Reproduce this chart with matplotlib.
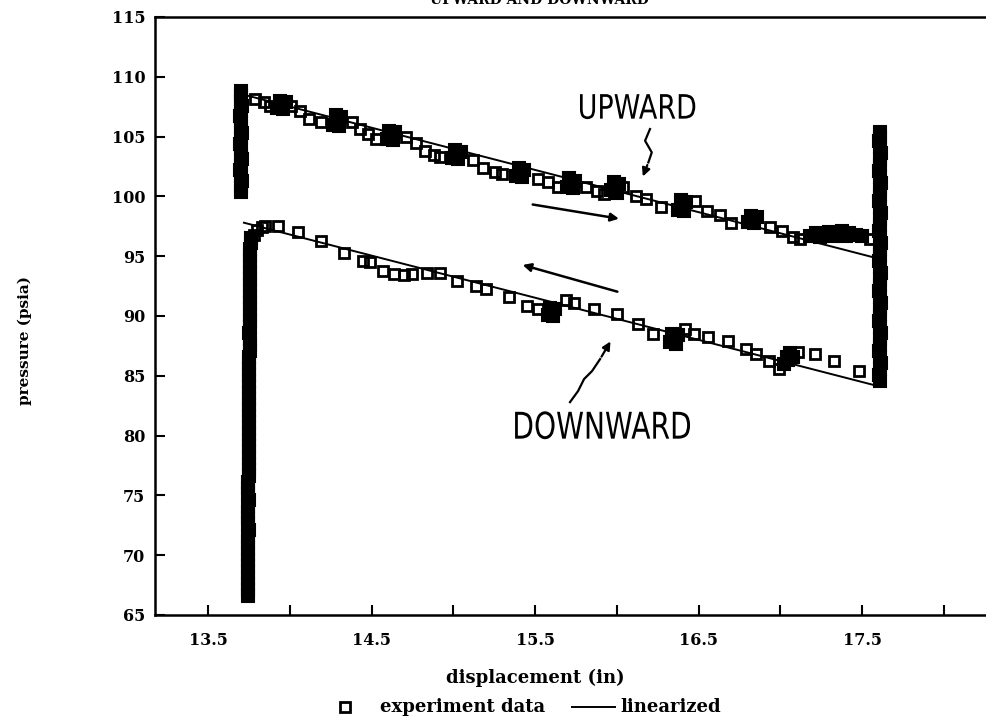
import matplotlib
matplotlib.use('Agg')
import matplotlib.pyplot as plt
from matplotlib.textpath import TextPath
from matplotlib.patches import PathPatch
from matplotlib.transforms import Affine2D
from matplotlib.font_manager import FontProperties

# ---- data ----
# upward stroke: band at the left end, sloped part, band at the right end
up_band_l_y = [100.4, 100.8, 101.3, 101.7, 102.2, 102.6, 103.1, 103.5, 104.0, 104.4,
               104.9, 105.3, 105.8, 106.2, 106.7, 107.1, 107.6, 108.0, 108.4, 108.8]
up_band_l_x = [13.70, 13.70, 13.705, 13.70, 13.695, 13.70, 13.705, 13.70, 13.70, 13.695,
               13.70, 13.705, 13.70, 13.70, 13.695, 13.70, 13.705, 13.70, 13.70, 13.70]

# single (separate) readings on the upward slope
up_x = [13.79, 13.84, 13.88, 14.01, 14.06, 14.12, 14.19, 14.38, 14.43, 14.48, 14.53,
        14.71, 14.77, 14.83, 14.88, 14.92, 15.12, 15.18, 15.255, 15.30, 15.52, 15.58,
        15.64, 15.81, 15.88, 15.92, 16.04, 16.12, 16.18, 16.27, 16.48, 16.55, 16.63,
        16.70, 16.94, 17.01, 17.08, 17.12, 17.55]
up_y = [108.14, 107.86, 107.58, 107.58, 107.16, 106.46, 106.19, 106.19, 105.6, 105.2, 104.8,
        104.93, 104.5, 103.8, 103.5, 103.3, 103.05, 102.4, 102.0, 101.9, 101.45, 101.2,
        100.75, 100.75, 100.47, 100.2, 100.75, 100.05, 99.8, 99.1, 99.6, 98.8, 98.45,
        97.8, 97.4, 97.1, 96.6, 96.4, 96.4]

# overplotted clusters (many readings on top of each other) on the upward slope
up_cl_x = [13.925, 13.94, 13.95, 13.96, 13.975,
           14.265, 14.28, 14.29, 14.30, 14.315,
           14.595, 14.61, 14.62, 14.63, 14.645,
           14.995, 15.01, 15.02, 15.03, 15.045,
           15.385, 15.40, 15.41, 15.42, 15.435,
           15.695, 15.71, 15.72, 15.73, 15.745,
           15.965, 15.98, 15.99, 16.00, 16.015,
           16.375, 16.39, 16.40, 16.41, 16.425,
           16.805, 16.82, 16.83, 16.84, 16.855,
           17.18, 17.22, 17.24, 17.26, 17.30, 17.32, 17.34, 17.38, 17.40, 17.42, 17.46, 17.50]
up_cl_y = [107.4, 108.0, 107.7, 107.3, 107.9,
           106.0, 106.8, 106.4, 105.9, 106.6,
           104.8, 105.5, 105.1, 104.7, 105.4,
           103.2, 103.9, 103.5, 103.1, 103.7,
           101.7, 102.4, 102.0, 101.6, 102.2,
           100.8, 101.5, 101.1, 100.7, 101.3,
           100.5, 101.2, 100.8, 100.3, 101.0,
           98.9, 99.7, 99.3, 98.8, 99.5,
           97.9, 98.4, 98.1, 97.8, 98.3,
           96.7, 96.9, 96.6, 96.8, 97.0, 96.7, 96.9, 97.1, 96.7, 96.9, 96.8, 96.7]

band_r_y = [84.6, 85.1, 85.6, 86.1, 86.6, 87.1, 87.6, 88.1, 88.6, 89.1,
            89.6, 90.1, 90.6, 91.1, 91.6, 92.1, 92.6, 93.1, 93.6, 94.1,
            94.6, 95.1, 95.6, 96.1, 96.6, 97.1, 97.6, 98.1, 98.6, 99.1,
            99.6, 100.1, 100.6, 101.1, 101.6, 102.1, 102.6, 103.1, 103.6, 104.1,
            104.6, 105.0, 105.4]
band_r_x = [17.61, 17.605, 17.61, 17.615, 17.61, 17.605, 17.61, 17.61, 17.615, 17.61,
            17.605, 17.61, 17.61, 17.615, 17.61, 17.605, 17.61, 17.61, 17.615, 17.61,
            17.605, 17.61, 17.61, 17.615, 17.61, 17.605, 17.61, 17.61, 17.615, 17.61,
            17.605, 17.61, 17.61, 17.615, 17.61, 17.605, 17.61, 17.61, 17.615, 17.61,
            17.605, 17.61, 17.61]

# downward stroke: band at the left end, then the sloped part
dn_band_y = [66.6, 67.1, 67.6, 68.1, 68.6, 69.1, 69.6, 70.1, 70.6, 71.1,
             71.6, 72.1, 72.6, 73.1, 73.6, 74.1, 74.6, 75.1, 75.6, 76.1,
             76.6, 77.1, 77.6, 78.1, 78.6, 79.1, 79.6, 80.1, 80.6, 81.1,
             81.6, 82.1, 82.6, 83.1, 83.6, 84.1, 84.6, 85.1, 85.6, 86.1,
             86.6, 87.1, 87.6, 88.1, 88.6, 89.1, 89.6, 90.1, 90.6, 91.1,
             91.6, 92.1, 92.6, 93.1, 93.6, 94.1, 94.6, 95.1, 95.6, 96.1, 96.5]
dn_band_x = [13.745, 13.745, 13.747, 13.745, 13.744, 13.745, 13.747, 13.745, 13.745, 13.744,
             13.746, 13.748, 13.746, 13.746, 13.745, 13.746, 13.748, 13.747, 13.747, 13.746,
             13.748, 13.748, 13.750, 13.749, 13.748, 13.749, 13.751, 13.750, 13.750, 13.749,
             13.750, 13.752, 13.751, 13.751, 13.750, 13.751, 13.753, 13.752, 13.752, 13.752,
             13.753, 13.755, 13.754, 13.754, 13.753, 13.754, 13.756, 13.755, 13.755, 13.755,
             13.756, 13.758, 13.757, 13.757, 13.756, 13.757, 13.759, 13.758, 13.759, 13.761, 13.764]

dn_x = [13.78, 13.80, 13.83, 13.85, 13.93, 14.05, 14.19, 14.33, 14.45, 14.49,
        14.57, 14.64, 14.70, 14.75, 14.84, 14.92, 15.02, 15.14, 15.20, 15.34,
        15.45, 15.52, 15.69, 15.74, 15.86, 16.00, 16.13, 16.22,
        16.42, 16.47, 16.56, 16.68, 16.79, 16.85, 16.93, 16.99,
        17.11, 17.21, 17.33, 17.48]
dn_y = [96.8, 97.2, 97.4, 97.55, 97.55, 97.05, 96.3, 95.3, 94.6, 94.5,
        93.8, 93.5, 93.4, 93.5, 93.6, 93.6, 92.9, 92.5, 92.25, 91.55,
        90.85, 90.6, 91.3, 91.1, 90.6, 90.2, 89.3, 88.5,
        88.9, 88.5, 88.25, 87.9, 87.2, 86.8, 86.25, 85.55,
        86.95, 86.8, 86.25, 85.4]
dn_cl_x = [15.58, 15.59, 15.60, 15.61, 15.62,
           16.325, 16.34, 16.35, 16.36, 16.375,
           17.025, 17.04, 17.05, 17.06, 17.075]
dn_cl_y = [90.1, 90.7, 90.4, 90.0, 90.6,
           87.8, 88.5, 88.1, 87.7, 88.4,
           86.0, 86.6, 86.3, 86.9, 86.6]

# linearized fits (end points)
lin_up_x = [13.72, 17.60]
lin_up_y = [108.5, 94.8]
lin_dn_x = [13.72, 17.58]
lin_dn_y = [97.8, 84.2]

x_major = [13.5, 14.5, 15.5, 16.5, 17.5]
x_minor = [14.0, 15.0, 16.0, 17.0, 18.0]
y_ticks = [65, 70, 75, 80, 85, 90, 95, 100, 105, 110, 115]

W, H = 987, 719
serif = dict(family='DejaVu Serif', weight='bold')

fig = plt.figure(figsize=(W / 100, H / 100), dpi=100)
ax = fig.add_axes([155 / W, 1 - 615 / H, 1 - 155 / W, (615 - 17) / H])

open_mk = dict(marker='s', ms=7.3, mfc='none', mec='black', mew=2.0, ls='none')
full_mk = dict(marker='s', ms=8.5, mfc='black', mec='black', mew=1.5, ls='none')
for xs, ys in [(up_x, up_y), (dn_x, dn_y)]:
    ax.plot(xs, ys, **open_mk)
for xs, ys in [(up_band_l_x, up_band_l_y), (up_cl_x, up_cl_y), (band_r_x, band_r_y),
               (dn_band_x, dn_band_y), (dn_cl_x, dn_cl_y)]:
    ax.plot(xs, ys, **full_mk)
ax.plot(lin_up_x, lin_up_y, color='black', lw=1.4)
ax.plot(lin_dn_x, lin_dn_y, color='black', lw=1.4)

ax.set_xlim(13.176, 18.264)
ax.set_ylim(65, 115)
ax.set_xticks(x_major)
ax.set_xticklabels(['13.5', '14.5', '15.5', '16.5', '17.5'])
ax.set_xticks(x_minor, minor=True)
ax.set_yticks(y_ticks)
ax.set_yticklabels([str(v) for v in y_ticks])
ax.tick_params(axis='both', which='both', direction='in', length=7, width=1.5)
ax.tick_params(axis='x', which='major', pad=12)
ax.tick_params(axis='y', pad=7)
for lab in ax.get_xticklabels() + ax.get_yticklabels():
    lab.set_fontproperties(FontProperties(size=11.5, **serif))
for s in ['left', 'bottom', 'top']:
    ax.spines[s].set_linewidth(1.8)
ax.spines['right'].set_visible(False)


def hand_text(s, x0, x1, y0, y1):
    tp = TextPath((0, 0), s, size=1, prop=FontProperties(family='DejaVu Sans'))
    e = tp.get_extents()
    tr = (Affine2D().translate(-e.x0, -e.y0)
          .scale((x1 - x0) / e.width, (y1 - y0) / e.height)
          .translate(x0, y0) + ax.transData)
    ax.add_patch(PathPatch(tp, transform=tr, fc='black', lw=0))


# handwritten notes
hand_text('UPWARD', 15.775, 16.48, 106.46, 108.55)
hand_text('DOWNWARD', 15.378, 16.448, 79.7, 82.03)
ax.plot([16.203, 16.173, 16.214, 16.193], [105.63, 104.65, 103.68, 102.84], color='black', lw=1.6)
ax.annotate('', xy=(16.153, 101.45), xytext=(16.193, 102.84),
            arrowprops=dict(arrowstyle='-|>', color='black', lw=1.6, mutation_scale=12))
ax.annotate('', xy=(16.03, 98.1), xytext=(15.469, 99.36),
            arrowprops=dict(arrowstyle='-|>', color='black', lw=1.8, mutation_scale=12))
ax.annotate('', xy=(15.408, 94.33), xytext=(16.02, 91.97),
            arrowprops=dict(arrowstyle='-|>', color='black', lw=1.8, mutation_scale=12))
ax.plot([15.714, 15.763, 15.80, 15.849, 15.898], [82.8, 83.72, 84.73, 85.4, 86.4], color='black', lw=1.6)
ax.annotate('', xy=(15.97, 88.07), xytext=(15.898, 86.4),
            arrowprops=dict(arrowstyle='-|>', color='black', lw=1.6, mutation_scale=12))

# labels, cut-off title and legend line
fig.text(539 / W, 1.0, 'UPWARD AND DOWNWARD', ha='center', va='center', fontsize=10, **serif)
fig.text(535 / W, 1 - 678 / H, 'displacement (in)', ha='center', va='center', fontsize=13, **serif)
fig.text(25 / W, 1 - 340 / H, 'pressure (psia)', ha='center', va='center', rotation=90,
         fontsize=11, **serif)
fig.add_artist(plt.Line2D([345 / W], [1 - 707 / H], marker='s', ms=7, mfc='none',
                          mec='black', mew=2.0, ls='none'))
fig.text(380 / W, 1 - 707 / H, 'experiment data', ha='left', va='center', fontsize=13, **serif)
fig.add_artist(plt.Line2D([572 / W, 615 / W], [1 - 707 / H, 1 - 707 / H], color='black', lw=1.4))
fig.text(620 / W, 1 - 707 / H, 'linearized', ha='left', va='center', fontsize=13, **serif)

fig.savefig('out.png', dpi=100)
